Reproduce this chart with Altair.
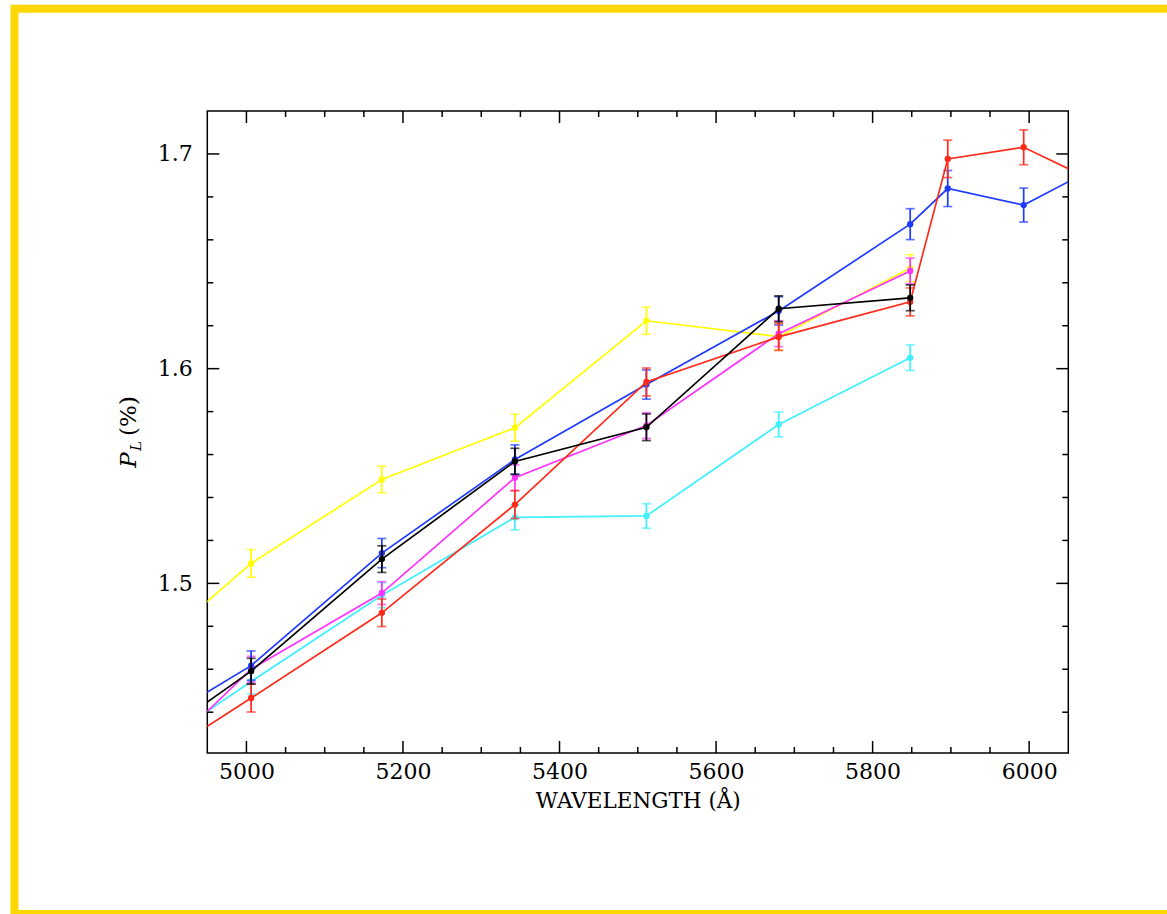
import altair as alt
import pandas as pd

# ---------------- data ----------------
series_names = ["yellow", "cyan", "magenta", "blue", "red", "black"]
series_colors = {"yellow": "#ffff00", "cyan": "#3ff0ff", "magenta": "#ff33ff",
                 "blue": "#1f3bff", "red": "#ff2a1a", "black": "#000000"}

yellow_x = [4839, 5006, 5173, 5343, 5511, 5680, 5848]
yellow_y = [1.4565, 1.5093, 1.5484, 1.5725, 1.6223, 1.6149, 1.6468]
yellow_e = [0.0064, 0.0064, 0.0062, 0.0063, 0.0063, 0.0063, 0.0063]

cyan_x = [4839, 5006, 5173, 5343, 5511, 5680, 5848]
cyan_y = [1.4128, 1.4543, 1.4945, 1.5307, 1.5314, 1.5740, 1.6051]
cyan_e = [0.0058, 0.0058, 0.0058, 0.0058, 0.0057, 0.0058, 0.0060]

magenta_x = [4839, 5006, 5173, 5343, 5511, 5680, 5848]
magenta_y = [1.4015, 1.4600, 1.4955, 1.5492, 1.5735, 1.6163, 1.6455]
magenta_e = [0.0060, 0.0060, 0.0053, 0.0060, 0.0060, 0.0060, 0.0060]

blue_x = [4839, 5006, 5173, 5343, 5511, 5680, 5848, 5896, 5993, 6090]
blue_y = [1.4250, 1.4617, 1.5141, 1.5577, 1.5926, 1.6269, 1.6673, 1.6839, 1.6762, 1.6947]
blue_e = [0.0068, 0.0068, 0.0068, 0.0068, 0.0068, 0.0066, 0.0072, 0.0084, 0.0079, 0.0080]

red_x = [4839, 5006, 5173, 5343, 5511, 5680, 5848, 5896, 5993, 6090]
red_y = [1.4072, 1.4466, 1.4863, 1.5367, 1.5938, 1.6148, 1.6311, 1.6977, 1.7031, 1.6862]
red_e = [0.0065, 0.0065, 0.0064, 0.0065, 0.0065, 0.0063, 0.0065, 0.0087, 0.0081, 0.0080]

black_x = [4839, 5006, 5173, 5343, 5511, 5680, 5848]
black_y = [1.4162, 1.4591, 1.5113, 1.5568, 1.5727, 1.6279, 1.6330]
black_e = [0.0060, 0.0060, 0.0062, 0.0061, 0.0062, 0.0060, 0.0060]

series_data = {
    "yellow": (yellow_x, yellow_y, yellow_e),
    "cyan": (cyan_x, cyan_y, cyan_e),
    "magenta": (magenta_x, magenta_y, magenta_e),
    "blue": (blue_x, blue_y, blue_e),
    "red": (red_x, red_y, red_e),
    "black": (black_x, black_y, black_e),
}

x_domain = [4950, 6050]
y_domain = [1.421, 1.72]
x_major = [5000, 5200, 5400, 5600, 5800, 6000]
x_minor = [5050, 5100, 5150, 5250, 5300, 5350, 5450, 5500, 5550,
           5650, 5700, 5750, 5850, 5900, 5950]
y_major = [1.5, 1.6, 1.7]
y_minor = [1.44, 1.46, 1.48, 1.52, 1.54, 1.56, 1.58, 1.62, 1.64, 1.66, 1.68]

x_title = "WAVELENGTH (Å)"
y_title_main = "P"
y_title_sub = "L"
y_title_unit = "(%)"

# ---------------- layout ----------------
W, H = 861, 642
FONT = "DejaVu Serif"

xscale = alt.Scale(domain=x_domain, nice=False, zero=False)
yscale = alt.Scale(domain=y_domain, nice=False, zero=False)
xaxis = alt.Axis(values=x_major, format="d", ticks=False, domain=False, grid=False,
                 labelFont=FONT, labelFontSize=22, labelColor="black", labelPadding=8,
                 title=x_title, titleFont=FONT, titleFontSize=21.5, titleFontWeight="normal",
                 titleColor="black", titlePadding=8)
yaxis = alt.Axis(values=y_major, format=".1f", ticks=False, domain=False, grid=False,
                 labelFont=FONT, labelFontSize=22, labelColor="black", labelPadding=15,
                 title=None)

X = alt.X("x:Q", scale=xscale, axis=xaxis)
Y = alt.Y("y:Q", scale=yscale, axis=yaxis)

layers = []

for name in series_names:
    xs, ys, es = series_data[name]
    col = series_colors[name]
    df = pd.DataFrame({"x": xs, "y": ys, "e": es})
    df["lo"] = df["y"] - df["e"]
    df["hi"] = df["y"] + df["e"]
    vis = df[(df["x"] >= x_domain[0]) & (df["x"] <= x_domain[1])]

    base_all = alt.Chart(df)
    base = alt.Chart(vis)
    layers.append(base_all.mark_line(color=col, strokeWidth=1.7, clip=True).encode(x=X, y=Y))
    layers.append(base.mark_rule(color=col, strokeWidth=1.7).encode(
        x=X, y=alt.Y("lo:Q", scale=yscale, axis=yaxis), y2="hi:Q"))
    layers.append(base.mark_tick(color=col, orient="horizontal", size=9, thickness=1.7).encode(
        x=X, y=alt.Y("lo:Q", scale=yscale, axis=yaxis)))
    layers.append(base.mark_tick(color=col, orient="horizontal", size=9, thickness=1.7).encode(
        x=X, y=alt.Y("hi:Q", scale=yscale, axis=yaxis)))
    layers.append(base.mark_circle(color=col, size=40, opacity=1).encode(x=X, y=Y))

# inward ticks on all four sides
def xticks(vals, length):
    d = alt.Chart(pd.DataFrame({"x": vals}))
    return [
        d.mark_rule(color="black", strokeWidth=1.5).encode(x=X, y=alt.value(H), y2=alt.value(H - length)),
        d.mark_rule(color="black", strokeWidth=1.5).encode(x=X, y=alt.value(0), y2=alt.value(length)),
    ]

def yticks(vals, length):
    d = alt.Chart(pd.DataFrame({"y": vals}))
    return [
        d.mark_rule(color="black", strokeWidth=1.5).encode(y=Y, x=alt.value(0), x2=alt.value(length)),
        d.mark_rule(color="black", strokeWidth=1.5).encode(y=Y, x=alt.value(W), x2=alt.value(W - length)),
    ]

layers += xticks(x_major, 12) + xticks(x_minor, 6) + yticks(y_major, 12) + yticks(y_minor, 6)

# y-axis title built from text pieces (italic P with subscript L)
layers.append(alt.Chart(pd.DataFrame({"t": [y_title_main]})).mark_text(
    font=FONT, fontSize=23, fontStyle="italic", angle=270, align="center", baseline="middle",
    color="black").encode(text="t:N", x=alt.value(-78), y=alt.value(349)))
layers.append(alt.Chart(pd.DataFrame({"t": [y_title_sub]})).mark_text(
    font=FONT, fontSize=15, fontStyle="italic", angle=270, align="center", baseline="middle",
    color="black").encode(text="t:N", x=alt.value(-71), y=alt.value(335)))
layers.append(alt.Chart(pd.DataFrame({"t": [y_title_unit]})).mark_text(
    font=FONT, fontSize=23, angle=270, align="center", baseline="middle",
    color="black").encode(text="t:N", x=alt.value(-78), y=alt.value(305)))

# yellow outer frame
layers.append(alt.Chart(pd.DataFrame({"a": [0]})).mark_rect(
    fillOpacity=0, stroke="#ffd700", strokeWidth=8).encode(
    x=alt.value(-192.8), x2=alt.value(1100), y=alt.value(-102.2), y2=alt.value(803)))

chart = alt.layer(*layers).properties(
    width=W, height=H,
    autosize=alt.AutoSizeParams(type="none"),
    padding={"left": 207.3, "top": 111, "right": 98.7, "bottom": 161},
    background="white",
).configure_view(stroke="black", strokeWidth=1.5)

chart.save("out.html", embed_options={"renderer": "svg", "actions": False})
